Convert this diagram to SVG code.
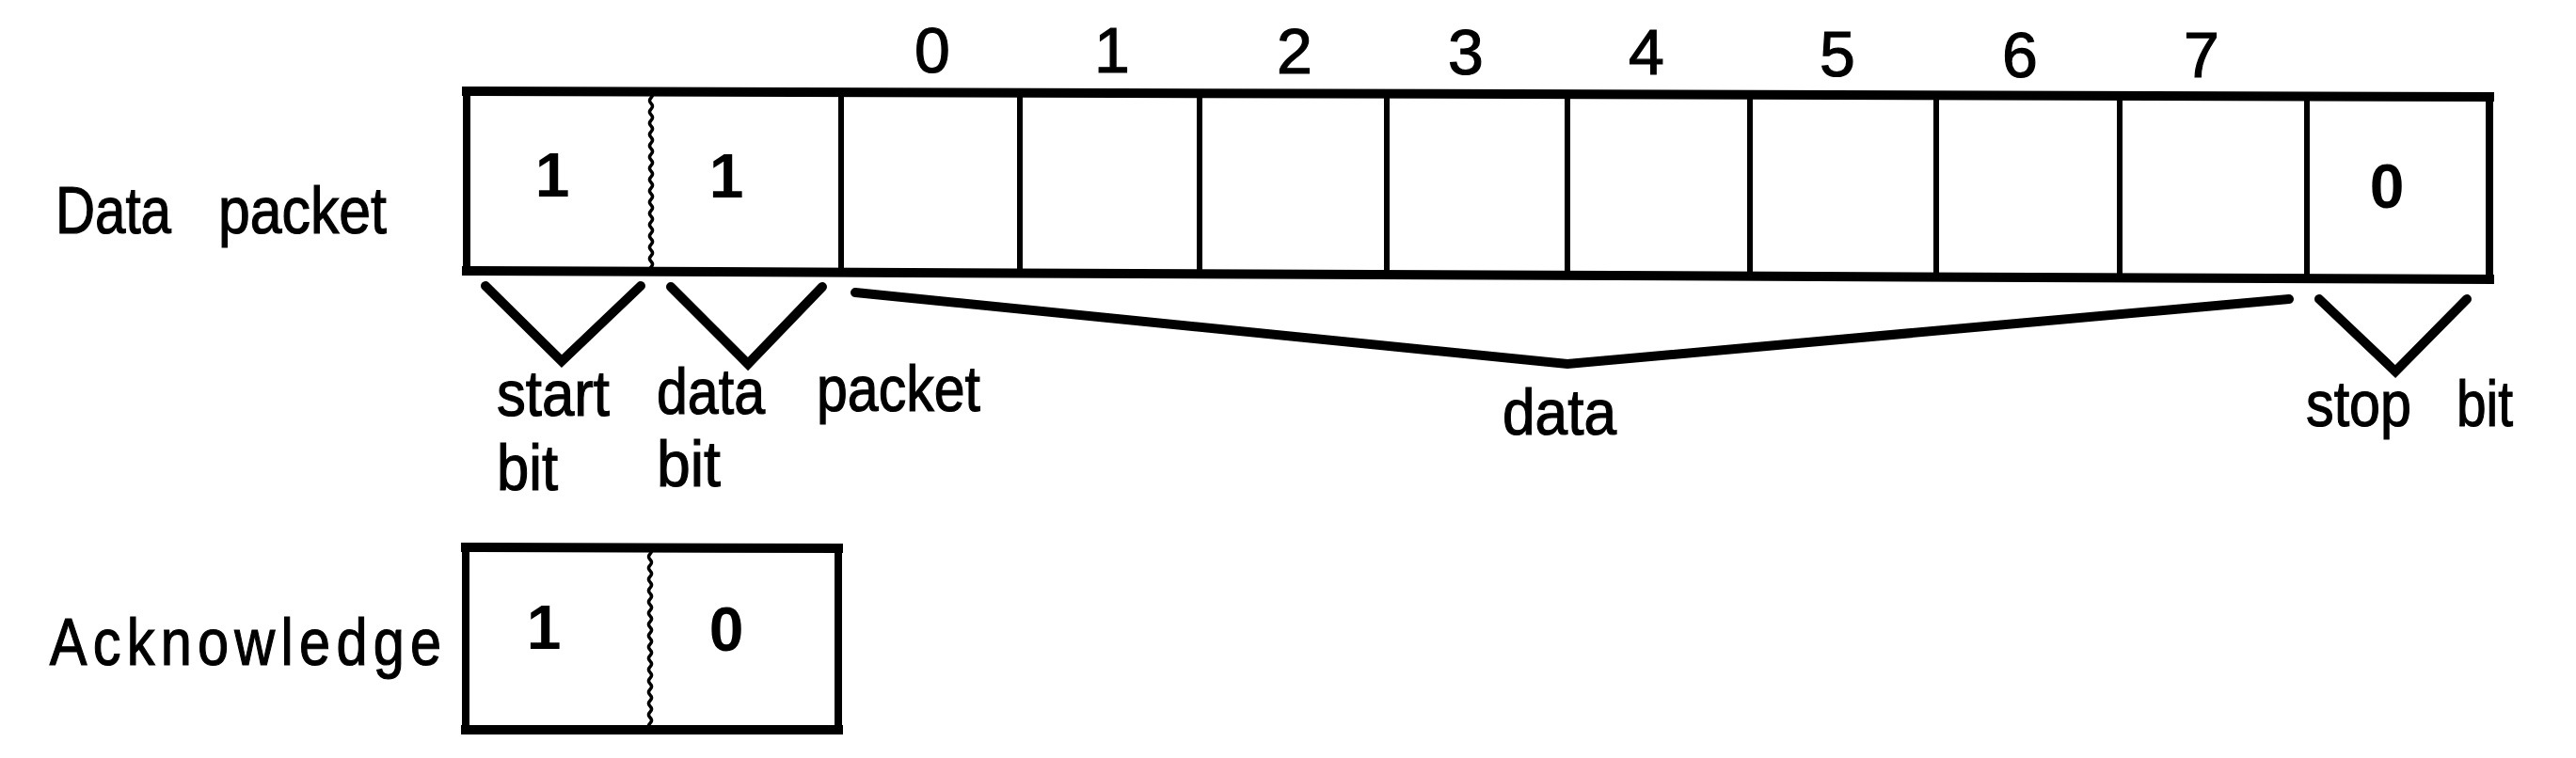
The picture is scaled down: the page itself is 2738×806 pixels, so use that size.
<svg xmlns="http://www.w3.org/2000/svg" width="2738" height="806" viewBox="0 0 2738 806">
<style>
  text { font-family: "Liberation Sans", Arial, sans-serif; fill: #000; stroke: #000; stroke-width: 1.2; }
  .lbl { font-size: 70px; }
  .idx { font-size: 68px; text-anchor: middle; }
  .bit { font-size: 66px; font-weight: bold; text-anchor: middle; stroke-width: 0; }
  .sub { font-size: 69px; }
  .h { stroke: #000; stroke-width: 10; fill: none; stroke-linecap: square; }
  .v { stroke: #000; stroke-width: 8; fill: none; }
  .d { stroke: #000; stroke-width: 6; fill: none; }
  .w { stroke: #000; stroke-width: 3.5; fill: none; }
  .br { stroke: #000; stroke-width: 10; fill: none; stroke-linecap: round; stroke-linejoin: miter; }
</style>
<defs>
  <path id="wave" d="M0,0 q3,3 0,6 q-3,3 0,6 q3,3 0,6 q-3,3 0,6 q3,3 0,6 q-3,3 0,6 q3,3 0,6 q-3,3 0,6 q3,3 0,6 q-3,3 0,6 q3,3 0,6 q-3,3 0,6 q3,3 0,6 q-3,3 0,6 q3,3 0,6 q-3,3 0,6 q3,3 0,6 q-3,3 0,6 q3,3 0,6 q-3,3 0,6 q3,3 0,6 q-3,3 0,6 q3,3 0,6 q-3,3 0,6 q3,3 0,6 q-3,3 0,6 q3,3 0,6 q-3,3 0,6 q3,3 0,6 q-3,3 0,6 q3,3 0,6 q-3,3 0,6"/>
</defs>
<rect width="2738" height="806" fill="#fff"/>

<g id="data-packet">
  <text class="lbl"><tspan x="59" y="248" textLength="123" lengthAdjust="spacingAndGlyphs">Data</tspan> <tspan x="232" y="248" textLength="179" lengthAdjust="spacingAndGlyphs">packet</tspan></text>
  <line class="h" x1="496" y1="97" x2="2646" y2="103"/>
  <line class="h" x1="496" y1="288" x2="2646" y2="297"/>
  <line class="v" x1="496" y1="97" x2="496" y2="288"/>
  <line class="v" x1="2646" y1="103" x2="2646" y2="297"/>
  <use href="#wave" x="692" y="98" class="w"/>
  <line class="d" x1="894" y1="98" x2="894" y2="290"/>
  <line class="d" x1="1084" y1="98" x2="1084" y2="291"/>
  <line class="d" x1="1275" y1="99" x2="1275" y2="291"/>
  <line class="d" x1="1474" y1="100" x2="1474" y2="292"/>
  <line class="d" x1="1666" y1="100" x2="1666" y2="293"/>
  <line class="d" x1="1860" y1="101" x2="1860" y2="294"/>
  <line class="d" x1="2058" y1="101" x2="2058" y2="295"/>
  <line class="d" x1="2253" y1="102" x2="2253" y2="296"/>
  <line class="d" x1="2452" y1="102" x2="2452" y2="296"/>
  <text class="bit" x="587" y="209">1</text>
  <text class="bit" x="772" y="210">1</text>
  <text class="bit" x="2537" y="221">0</text>
  <text class="idx" x="991" y="77">0</text>
  <text class="idx" x="1182" y="77">1</text>
  <text class="idx" x="1376" y="78">2</text>
  <text class="idx" x="1558" y="79">3</text>
  <text class="idx" x="1750" y="79">4</text>
  <text class="idx" x="1953" y="81">5</text>
  <text class="idx" x="2147" y="82">6</text>
  <text class="idx" x="2340" y="82">7</text>
</g>

<g id="connectors">
  <polyline class="br" points="516,304 597,384 681,304"/>
  <polyline class="br" points="713,305 795,387 874,305"/>
  <polyline class="br" points="909,311 1666,387 2433,318"/>
  <polyline class="br" points="2465,318 2546,395 2622,318"/>
</g>

<g id="labels">
  <text class="sub" x="528" y="442" textLength="120" lengthAdjust="spacingAndGlyphs">start</text>
  <text class="sub" x="528" y="521" textLength="65" lengthAdjust="spacingAndGlyphs">bit</text>
  <text class="sub" x="698" y="440" textLength="115" lengthAdjust="spacingAndGlyphs">data</text>
  <text class="sub" x="698" y="517" textLength="68" lengthAdjust="spacingAndGlyphs">bit</text>
  <text class="sub" x="868" y="437" textLength="174" lengthAdjust="spacingAndGlyphs">packet</text>
  <text class="sub" x="1597" y="462" textLength="121" lengthAdjust="spacingAndGlyphs">data</text>
  <text class="sub"><tspan x="2451" y="453" textLength="112" lengthAdjust="spacingAndGlyphs">stop</tspan> <tspan x="2611" y="453" textLength="60" lengthAdjust="spacingAndGlyphs">bit</tspan></text>
</g>

<g id="acknowledge">
  <text class="lbl" transform="scale(0.85,1)" x="62" y="707" textLength="490" lengthAdjust="spacing">Acknowledge</text>
  <line class="h" x1="495" y1="582" x2="891" y2="583"/>
  <line class="h" x1="495" y1="776" x2="891" y2="776"/>
  <line class="v" x1="495" y1="582" x2="495" y2="776"/>
  <line class="v" x1="891" y1="583" x2="891" y2="776"/>
  <use href="#wave" x="691" y="583" class="w"/>
  <text class="bit" x="578" y="690">1</text>
  <text class="bit" x="772" y="692">0</text>
</g>
</svg>
